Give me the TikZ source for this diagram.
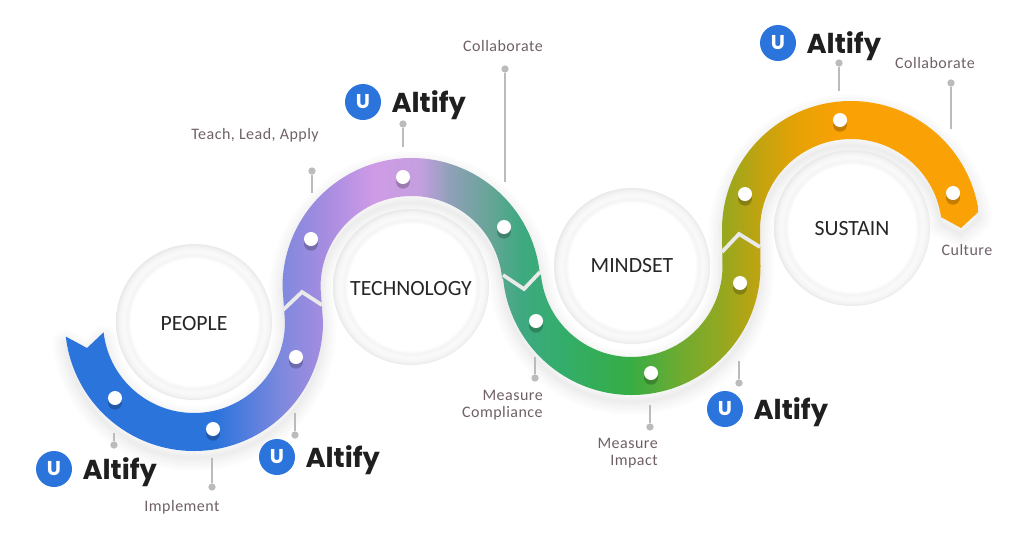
\documentclass[tikz,border=0pt]{standalone}
\usepackage{fontspec}
\setmainfont{Carlito}
\newfontfamily\brandfont{Poppins}
\usetikzlibrary{positioning,shadows}
\definecolor{bandblue}{HTML}{2B74DC}
\definecolor{bandiris}{HTML}{8089DE}
\definecolor{bandlilac}{HTML}{A58CE0}
\definecolor{bandpink}{HTML}{CF9BE6}
\definecolor{bandmauve}{HTML}{C49FDF}
\definecolor{bandslate}{HTML}{8FA0B8}
\definecolor{bandsea}{HTML}{66A596}
\definecolor{bandteal}{HTML}{3FA982}
\definecolor{bandjade}{HTML}{33AD6C}
\definecolor{bandgreen}{HTML}{36AD45}
\definecolor{bandlime}{HTML}{6FAB30}
\definecolor{bandolive}{HTML}{92A820}
\definecolor{bandgold}{HTML}{C2A310}
\definecolor{bandamber}{HTML}{E8A205}
\definecolor{bandorange}{HTML}{FAA105}
\definecolor{labelgrey}{HTML}{6F6068}
\definecolor{leadergrey}{HTML}{BBBBBB}
\definecolor{seamgrey}{HTML}{EAEAEA}
\definecolor{ringedge}{HTML}{E9E9E9}
\definecolor{ringinner}{HTML}{F4F4F4}
\definecolor{ringsoft}{HTML}{FAFAFA}
\pgfdeclarehorizontalshading{bandfade}{100bp}{color(0bp)=(bandblue); color(35.5bp)=(bandblue); color(38.82bp)=(bandiris); color(40.77bp)=(bandlilac); color(43.31bp)=(bandpink); color(45.51bp)=(bandmauve); color(46.97bp)=(bandslate); color(48.93bp)=(bandsea); color(50.39bp)=(bandteal); color(52.34bp)=(bandjade); color(55.76bp)=(bandgreen); color(58.2bp)=(bandlime); color(60.16bp)=(bandolive); color(62.11bp)=(bandgold); color(64.06bp)=(bandamber); color(66.02bp)=(bandorange); color(100bp)=(bandorange)}
\pgfdeclareradialshading{ringfade}{\pgfpoint{0bp}{0bp}}{color(0bp)=(white); color(20.2bp)=(white); color(21.4bp)=(ringinner); color(22.6bp)=(ringsoft); color(24bp)=(ringinner); color(25bp)=(ringedge); color(50bp)=(ringedge)}
\tikzstyle{stage} = [circle, shading=ringfade, minimum size=117pt, inner sep=0pt, font=\fontsize{16.3}{18}\selectfont, text=black!85]
\tikzstyle{stopdot} = [circle, fill=white, minimum size=10.5pt, inner sep=0pt, drop shadow={shadow xshift=0pt, shadow yshift=-3.5pt, opacity=.22, fill=black}]
\tikzstyle{leader} = [draw, line width=1.4pt, color=leadergrey]
\tikzstyle{pinhead} = [circle, fill=leadergrey, minimum size=5.5pt, inner sep=0pt]
\tikzstyle{caption} = [font=\fontsize{12}{12.4}\selectfont\addfontfeature{LetterSpace=3}, text=labelgrey, inner sep=0pt, align=right]
\tikzstyle{seam} = [draw, line width=2.8pt, color=seamgrey]
\tikzstyle{logomark} = [circle, fill=bandblue, minimum size=27pt, inner sep=0pt, text=white, font=\brandfont\bfseries\fontsize{15}{15}\selectfont]
\tikzstyle{logoword} = [inner sep=0pt, text=black!88, font=\brandfont\bfseries\fontsize{20.5}{20.5}\selectfont]
\def\peoplec{194,322}
\def\techc{411.5,287}
\def\mindc{631.5,266}
\def\sustc{851,230}
\def\ribbonpath{([shift={(\peoplec)}]173.5:129) -- (87,348) -- ([shift={(\peoplec)}]173.5:91)
	arc[start angle=173.5, end angle=0, radius=91]
	-- ([shift={(\techc)}]180:129) arc[start angle=180, end angle=354.6, radius=129]
	-- ([shift={(\mindc)}]174.6:91) arc[start angle=174.6, end angle=0, radius=91]
	-- ([shift={(\sustc)}]180:129) arc[start angle=180, end angle=351.8, radius=129]
	-- (961,228) -- ([shift={(\sustc)}]351.8:91) arc[start angle=351.8, end angle=180, radius=91]
	-- ([shift={(\mindc)}]0:129) arc[start angle=0, end angle=174.6, radius=129]
	-- ([shift={(\techc)}]354.6:91) arc[start angle=354.6, end angle=180, radius=91]
	-- ([shift={(\peoplec)}]0:129) arc[start angle=0, end angle=173.5, radius=129] -- cycle}
\begin{document}
\begin{tikzpicture}[x=0.75pt, y=-0.75pt]
	\useasboundingbox (0,0) rectangle (1024,540);
	% Soft halo under the band
	\foreach \w in {20,16,12,8,5,2}
		\draw[black, opacity=0.013, line width=\w pt, line join=round, yshift=-5pt] \ribbonpath;
	% The band itself
	\begin{scope}
		\clip \ribbonpath;
		\shade[shading=bandfade] (0,0) rectangle (1024,540);
	\end{scope}
	\draw[seam] (283,310) -- (302,292) -- (322,305);
	\draw[seam] (503,275) -- (524,289) -- (540,272);
	\draw[seam] (722,252) -- (739,234) -- (760,247);
	% Place nodes
	\node [stage, text height=12.6pt] (people) at (194,322) {PEOPLE};
	\node [stage, text height=12.3pt] (technology) at (411,287) {TECHNOLOGY};
	\node [stage] (mindset) at (632,266) {MINDSET};
	\node [stage, text height=11.6pt] (sustain) at (852,228) {SUSTAIN};
	\foreach \i/\x/\y in {1/115/398, 2/213/429, 3/296/357, 4/311/239, 5/403/177, 6/504/227, 7/536/321, 8/651/373, 9/740/283, 10/745/194, 11/840/120, 12/953/193}
		\node [stopdot] (stop\i) at (\x,\y) {};
	% Draw leaders
	\foreach \i/\x/\y/\t in {1/114/433/445, 2/212/458/487, 3/295/413/435, 4/312/193/171, 5/403/147/124, 6/505/182/69, 7/535/357/378, 8/650/405/427, 9/739/361/383, 10/839/91/63, 11/951/129/83} {
		\coordinate (foot\i) at (\x,\y);
		\node [pinhead] (head\i) at (\x,\t) {};
		\path [leader] (foot\i) -- (head\i);
	}
	% Logos
	\foreach \i/\x/\y in {1/54/469, 2/277/457, 3/363/102, 4/725/409, 5/778/43} {
		\node [logomark] (mark\i) at (\x,\y) {U};
		\node [logoword, right=7.5pt of mark\i, yshift=-2.5pt] (word\i) {Altify};
	}
	% Captions
	\node [caption] (teach) at (255,135) {Teach, Lead, Apply};
	\node [caption] (collabmid) at (503,46) {Collaborate};
	\node [caption] (collabtop) at (935,63) {Collaborate};
	\node [caption] (culture) at (967,250) {Culture};
	\node [caption] (implement) at (182,507) {Implement};
	\node [caption, anchor=east] (compliance) at (543,405) {Measure\\Compliance};
	\node [caption, anchor=east] (impact) at (658,453) {Measure\\Impact};
\end{tikzpicture}
\end{document}
